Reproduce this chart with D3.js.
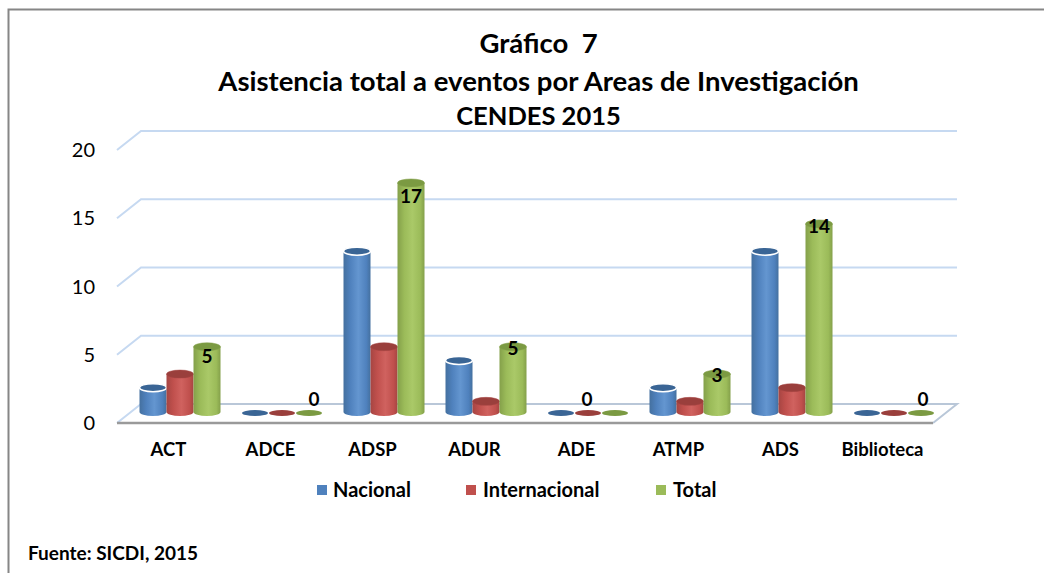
<!DOCTYPE html>
<html><head><meta charset="utf-8">
<script src="https://cdnjs.cloudflare.com/ajax/libs/d3/7.8.5/d3.min.js"></script>
<style>html,body{margin:0;padding:0;background:#fff}svg{display:block}text{font-family:Lato,"Open Sans",sans-serif;fill:#000}</style>
</head><body><svg id="c" width="1044" height="573"></svg>
<script>
const categories = ["ACT","ADCE","ADSP","ADUR","ADE","ATMP","ADS","Biblioteca"];
const nacional = [2,0,12,4,0,2,12,0];
const internacional = [3,0,5,1,0,1,2,0];
const total = [5,0,17,5,0,3,14,0];
const seriesNames = ["Nacional","Internacional","Total"];
const titleLines = ["Gráfico  7","Asistencia total a eventos por Areas de Investigación","CENDES 2015"];
const yTicks = [0,5,10,15,20];
const source = "Fuente: SICDI, 2015";

const allSeries = [nacional, internacional, total];
const palette = [
  {base:"#4f81bd",light:"#6496d0",dark:"#44709f",top:"#3a6595"},
  {base:"#c0504d",light:"#d0625f",dark:"#a64542",top:"#9a3f3c"},
  {base:"#9bbb59",light:"#aac968",dark:"#84a04a",top:"#7b9a42"}
];
const svg = d3.select("#c");
const defs = svg.append("defs");
palette.forEach((p,i)=>{
  const g = defs.append("linearGradient").attr("id","cyl"+i);
  [[0,p.dark],[.25,p.base],[.55,p.light],[.85,p.base],[1,p.dark]].forEach(s=>g.append("stop").attr("offset",s[0]).attr("stop-color",s[1]));
});
// frame
svg.append("path").attr("d","M8.5,573V9.5H1044").attr("fill","none").attr("stroke","#868686").attr("stroke-width",2);

const depth = {dx:24, dy:-19};
const x = d3.scaleBand().domain(categories).range([117,933]);
const y = d3.scaleLinear().domain([0,20]).range([423,150]);
const plot = svg.append("g");
// gridlines on back wall + slanted side
yTicks.forEach(t=>{
  const yy = y(t)+depth.dy;
  plot.append("path").attr("d",`M${x.range()[0]},${y(t)}L${x.range()[0]+depth.dx},${yy}H${x.range()[1]+depth.dx}`)
    .attr("fill","none").attr("stroke","#c6d9f1").attr("stroke-width",2);
});
// floor
plot.append("path").attr("d",`M${133+depth.dx-16},${y(0)+depth.dy}H${933+depth.dx}L933,${y(0)}`)
  .attr("fill","none").attr("stroke","#b9c7d8").attr("stroke-width",2);
plot.append("line").attr("x1",117).attr("x2",933).attr("y1",y(0)).attr("y2",y(0)).attr("stroke","#9a9a9a").attr("stroke-width",2.5);

// y axis labels
const axis = d3.axisLeft(y).tickValues(yTicks).tickSize(0).tickPadding(22);
const ag = svg.append("g").attr("transform","translate(117,0)").call(axis);
ag.select(".domain").remove();
ag.selectAll("text").style("font-family","Lato").style("font-size","20px").attr("fill","#000").attr("dy","0.33em");

// cylinders
const barW = 27, ry = 4, baseShift = -8, depthShift = 12;
// nudges of each Total label relative to its bar
const labelDrop = [10,0,13,2,0,1,2,0];
const labelSide = [0,5,0,0,-28,0,0,2];
const inner = d3.scaleBand().domain([0,1,2]).range([0,barW*3]);
categories.forEach((c,ci)=>{
  const cx0 = x(c)+x.bandwidth()/2 - barW*1.5 + depthShift;
  allSeries.forEach((vals,si)=>{
    const v = vals[ci], p = palette[si];
    const gx = cx0+inner(si), bw = barW, cx = gx+bw/2;
    const yb = y(0)+baseShift, yt = y(v)+baseShift;
    const g = plot.append("g");
    if(v>0){
      g.append("path").attr("d",`M${gx},${yt}V${yb-3}A${bw/2},${ry} 0 0 0 ${gx+bw},${yb-3}V${yt}Z`).attr("fill",`url(#cyl${si})`);
      g.append("ellipse").attr("cx",cx).attr("cy",yt).attr("rx",bw/2).attr("ry",ry)
        .attr("fill",p.top).attr("stroke",si===0?"#fff":p.dark).attr("stroke-width",si===0?1.5:0.5);
    } else {
      g.append("ellipse").attr("cx",cx).attr("cy",yb-2).attr("rx",bw/2-0.5).attr("ry",3).attr("fill",p.top);
    }
  });
  // data label of Total
  const v = total[ci];
  const lx = cx0 + inner(2) + barW/2 + labelSide[ci];
  const ly = v===0 ? y(0)-24 : y(v)+baseShift+labelDrop[ci];
  svg.append("text").attr("x",lx).attr("y",ly).attr("dy","0.35em").attr("text-anchor","middle")
    .style("font-size","19px").style("font-weight",700).text(v);
  // category label
  svg.append("text").attr("x",x(c)+x.bandwidth()/2+0.5).attr("y",450).attr("dy","0.35em").attr("text-anchor","middle")
    .style("font-size","18.5px").style("font-weight",700).text(c);
});
// title
const titleY = [43,81,116];
const titleSize = [27.5,27.5,25.5];
titleLines.forEach((t,i)=>svg.append("text").attr("x",538.5).attr("y",titleY[i]).attr("dy","0.35em").attr("text-anchor","middle")
  .style("font-size",titleSize[i]+"px").style("font-weight",700).style("white-space","pre").attr("xml:space","preserve").text(t));
// legend
const legX = [317,466,656], legTx = [333,483,673];
seriesNames.forEach((n,i)=>{
  svg.append("rect").attr("x",legX[i]).attr("y",485).attr("width",10).attr("height",10).attr("fill",palette[i].base);
  svg.append("text").attr("x",legTx[i]).attr("y",490).attr("dy","0.35em").style("font-size","20px").style("font-weight",700).text(n);
});
svg.append("text").attr("x",28).attr("y",553).attr("dy","0.35em").style("font-size","19px").style("font-weight",700).text(source);
</script></body></html>
